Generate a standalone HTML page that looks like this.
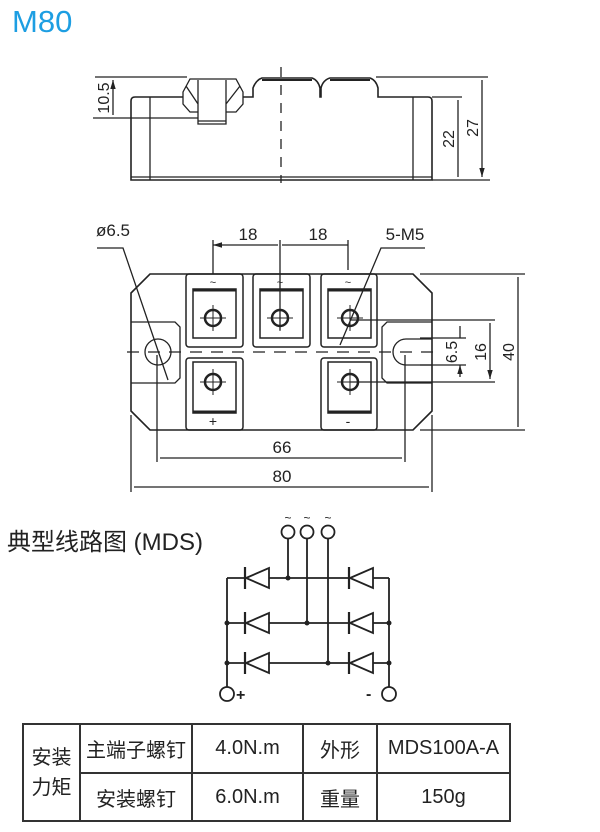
<!DOCTYPE html>
<html><head><meta charset="utf-8"><style>
body{margin:0;background:#fff;width:600px;height:832px;overflow:hidden;position:relative;font-family:"Liberation Sans","Noto Sans CJK SC",sans-serif}
.t{position:absolute}
table{position:absolute;left:22px;top:723px;border-collapse:collapse;font-size:20px;color:#222}
td{border:2px solid #333;text-align:center;padding:0}
</style></head><body>
<div class="t" style="left:12px;top:4px;font-size:31px;color:#1d9ee2">M80</div>
<div class="t" style="left:7px;top:522px;font-size:24px;color:#222">典型线路图 (MDS)</div>
<svg width="600" height="832" style="position:absolute;left:0;top:0" fill="none" stroke="#222" stroke-width="1.3" font-family="Liberation Sans, sans-serif">
<defs><marker id="a" viewBox="0 0 10 10" refX="10" refY="5" markerWidth="7" markerHeight="7" orient="auto-start-reverse"><path d="M0,2 L10,5 L0,8z" fill="#222" stroke="none"/></marker></defs>
<!-- top view -->
<path d="M183,97 H135 Q131,97 131,101 V180 H432 V101 Q432,97 428,97 H378 V88 Q376,80 370,78 H330 Q323,80 321,88 V97 H320 V88 Q318,80 312,78 H262 Q256,80 253,88 V97 H243" stroke-width="1.6"/>
<path d="M150,97 V180 M413,97 V180 M131,177 H432"/>
<path d="M183,92 L190,79 H236 L243,92 V104 L236,112 H226 V124 H198 V112 H190 L183,104 Z M198,80 V124 M226,80 V124 M186,86 L198,104 M240,86 L226,104 M198,121 H226" />
<path d="M262,80 H312 M330,80 H370" stroke-width="2"/>
<path d="M281,67 V183" stroke-dasharray="10,8"/>
<path d="M95,77 H187 M93,118 H198 M432,97 H462 M432,180 H490 M376,77 H488"/>
<path d="M113,80 V115 M458,100 V177 M482,80 V177" marker-start="url(#a)" marker-end="url(#a)"/>
<text transform="translate(109,98) rotate(-90)" text-anchor="middle" fill="#222" stroke="none" font-size="16">10.5</text>
<text transform="translate(454,139) rotate(-90)" text-anchor="middle" fill="#222" stroke="none" font-size="16">22</text>
<text transform="translate(478,128) rotate(-90)" text-anchor="middle" fill="#222" stroke="none" font-size="16">27</text>
<!-- middle view -->
<path d="M150,274 H413 L432,293 V411 L413,430 H150 L131,411 V293 Z" stroke-width="1.6"/>
<path d="M131,322 H175 L180,327 V378 L175,383 H131 M432,322 H387 L382,327 V378 L387,383 H432"/>
<circle cx="158" cy="352" r="13"/>
<path d="M432,339 H406 A13,13 0 0 0 406,365 H432"/>
<g stroke-width="1.5">
<rect x="186" y="274" width="57" height="73" rx="3"/><rect x="253" y="274" width="57" height="73" rx="3"/><rect x="321" y="274" width="56" height="73" rx="3"/>
<rect x="186" y="358" width="57" height="72" rx="3"/><rect x="321" y="358" width="56" height="72" rx="3"/>
<rect x="193" y="289" width="43" height="49"/><rect x="260" y="289" width="43" height="49"/><rect x="328" y="289" width="43" height="49"/>
<rect x="193" y="362" width="43" height="51"/><rect x="328" y="362" width="43" height="51"/>
</g>
<path d="M193,290 H236 M260,290 H303 M328,290 H371 M193,412 H236 M328,412 H371" stroke-width="3"/>
<g stroke-width="2.5"><circle cx="213" cy="318" r="8"/><circle cx="280" cy="318" r="8"/><circle cx="350" cy="318" r="8"/><circle cx="213" cy="382" r="8"/><circle cx="350" cy="382" r="8"/></g>
<path d="M213,305 V331 M200,318 H226 M280,305 V331 M267,318 H293 M350,305 V331 M337,318 H363 M213,369 V395 M200,382 H226 M350,369 V395 M337,382 H363" stroke-width="1"/>
<g fill="#222" stroke="none" font-size="11" text-anchor="middle"><text x="213" y="286">~</text><text x="280" y="286">~</text><text x="348" y="286">~</text><text x="213" y="426" font-size="14">+</text><text x="348" y="426" font-size="14">-</text></g>
<path d="M127,352 H440" stroke-dasharray="12,9"/>
<path d="M213,240 V274 M280,240 V330 M348,240 V270 M157,355 V462 M405,355 V462 M131,415 V492 M432,415 V492 M420,274 H525 M420,430 H525 M350,320 H495 M350,382 H495 M420,338 H466 M420,365 H466"/>
<path d="M213,245 H278 M282,245 H348 M160,458 H402 M134,487 H429 M518,277 V427 M490,323 V379" marker-start="url(#a)" marker-end="url(#a)"/>
<path d="M460,326 V338 M460,377 V365" marker-end="url(#a)"/>
<path d="M97,248 H123 L168,380 M425,248 H381 L340,345"/>
<g fill="#222" stroke="none" font-size="17" text-anchor="middle">
<text x="248" y="240">18</text><text x="318" y="240">18</text><text x="113" y="236">ø6.5</text><text x="405" y="240">5-M5</text>
<text x="282" y="453">66</text><text x="282" y="482">80</text>
<text transform="translate(457,352) rotate(-90)" font-size="16">6.5</text>
<text transform="translate(486,352) rotate(-90)" font-size="16">16</text>
<text transform="translate(514,352) rotate(-90)" font-size="16">40</text>
</g>
<!-- schematic -->
<g stroke-width="1.8">
<circle cx="288" cy="532" r="6.5"/><circle cx="307" cy="532" r="6.5"/><circle cx="328" cy="532" r="6.5"/>
<path d="M288,539 V578 M307,539 V623 M328,539 V663 M227,578 V687 M389,578 V687 M227,578 H389 M227,623 H389 M227,663 H389"/>
<circle cx="227" cy="694" r="7"/><circle cx="389" cy="694" r="7"/>
<g fill="#fff"><path d="M246,578 L269,568 V588 Z"/><path d="M246,623 L269,613 V633 Z"/><path d="M246,663 L269,653 V673 Z"/><path d="M350,578 L373,568 V588 Z"/><path d="M350,623 L373,613 V633 Z"/><path d="M350,663 L373,653 V673 Z"/></g>
<path d="M245,567 V589 M245,612 V634 M245,652 V674 M349,567 V589 M349,612 V634 M349,652 V674" stroke-width="2.2"/>
</g>
<g fill="#222" stroke="none"><circle cx="288" cy="578" r="2.5"/><circle cx="227" cy="623" r="2.5"/><circle cx="307" cy="623" r="2.5"/><circle cx="389" cy="623" r="2.5"/><circle cx="227" cy="663" r="2.5"/><circle cx="328" cy="663" r="2.5"/><circle cx="389" cy="663" r="2.5"/>
<text x="288" y="522" font-size="12" text-anchor="middle">~</text><text x="307" y="522" font-size="12" text-anchor="middle">~</text><text x="328" y="522" font-size="12" text-anchor="middle">~</text>
<text x="236" y="700" font-size="16" font-weight="bold">+</text><text x="366" y="699" font-size="16" font-weight="bold">-</text></g>
</svg>
<table>
<tr style="height:49px"><td rowspan="2" style="width:55px;line-height:30px">安装<br>力矩</td><td style="width:110px">主端子螺钉</td><td style="width:109px">4.0N.m</td><td style="width:72px">外形</td><td style="width:131px">MDS100A-A</td></tr>
<tr style="height:48px"><td>安装螺钉</td><td>6.0N.m</td><td>重量</td><td>150g</td></tr>
</table>
</body></html>
